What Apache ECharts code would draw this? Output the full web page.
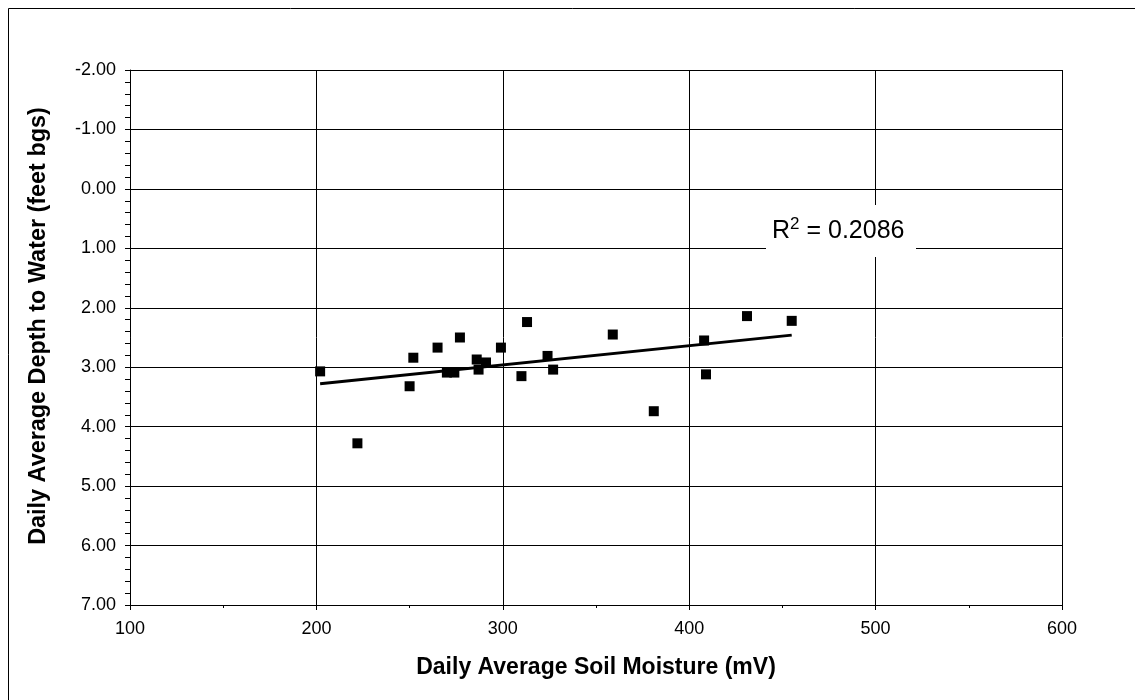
<!DOCTYPE html>
<html>
<head>
<meta charset="utf-8">
<script src="https://cdn.jsdelivr.net/npm/echarts@6/dist/echarts.min.js"></script>
<style>
html,body{margin:0;padding:0;background:#fff;}
#chart{width:1135px;height:700px;}
</style>
</head>
<body>
<div id="chart"></div>
<script>
// Data
const soilMoisture = [202, 222, 250, 252, 265, 270, 274, 277, 286, 287, 291, 299, 310, 313, 324, 327, 359, 381, 408, 409, 431, 455];
const depthToWater = [3.07, 4.28, 3.32, 2.84, 2.67, 3.09, 3.09, 2.50, 2.87, 3.04, 2.92, 2.67, 3.15, 2.24, 2.81, 3.04, 2.45, 3.74, 2.55, 3.12, 2.14, 2.22];
const trendX = [202, 455];
const trendY = [3.28, 2.46];
const r2Text = '0.2086';
const xTitle = 'Daily Average Soil Moisture (mV)';
const yTitle = 'Daily Average Depth to Water (feet bgs)';

const FONT = '"Liberation Sans", Arial, sans-serif';
const chart = echarts.init(document.getElementById('chart'), null, {renderer: 'canvas'});

const points = soilMoisture.map((x, i) => [x, depthToWater[i]]);
const trend = trendX.map((x, i) => [x, trendY[i]]);

chart.setOption({
  backgroundColor: '#fff',
  animation: false,
  grid: {left: 130, right: 73, top: 70, bottom: 95, containLabel: false},
  xAxis: {
    type: 'value', min: 100, max: 600, interval: 100,
    name: xTitle, nameLocation: 'middle', nameGap: 51,
    nameTextStyle: {fontFamily: FONT, fontSize: 23, fontWeight: 'bold', color: '#000'},
    axisLine: {show: true, onZero: false, lineStyle: {color: '#000', width: 1}},
    axisTick: {show: true, length: 5, lineStyle: {color: '#000'}},
    minorTick: {show: true, splitNumber: 2, length: 3, lineStyle: {color: '#000'}},
    axisLabel: {fontFamily: FONT, fontSize: 18, color: '#000', margin: 15},
    splitLine: {show: true, lineStyle: {color: '#000', width: 1}}
  },
  yAxis: {
    type: 'value', min: -2, max: 7, interval: 1, inverse: true,
    axisLine: {show: true, onZero: false, lineStyle: {color: '#000', width: 1}},
    axisTick: {show: true, length: 5, lineStyle: {color: '#000'}},
    minorTick: {show: true, splitNumber: 5, length: 5, lineStyle: {color: '#000'}},
    axisLabel: {fontFamily: FONT, fontSize: 18, color: '#000', margin: 14,
      formatter: v => v.toFixed(2)},
    splitLine: {show: true, lineStyle: {color: '#000', width: 1}}
  },
  graphic: [
    {type: 'rect', x: 0, y: 0, shape: {x: 8.5, y: 8.5, width: 1200, height: 800},
     style: {fill: 'none', stroke: '#000', lineWidth: 1}, silent: true, z: 100},
    {type: 'text', x: 38.5, y: 326, rotation: Math.PI / 2, z: 60,
     style: {text: yTitle, fontFamily: FONT, fontSize: 23.4, fontWeight: 'bold', fill: '#000',
       align: 'center', verticalAlign: 'middle'}},
    {type: 'rect', x: 0, y: 0, shape: {x: 766, y: 205, width: 150, height: 52},
     style: {fill: '#fff'}, z: 50},
    {type: 'text', x: 772, y: 212, z: 51,
     style: {
       text: '{r|R}{s|2}{r| = ' + r2Text + '}',
       rich: {
         r: {fontFamily: FONT, fontSize: 25, fill: '#000', verticalAlign: 'bottom', lineHeight: 32},
         s: {fontFamily: FONT, fontSize: 17, fill: '#000', verticalAlign: 'bottom', lineHeight: 32, padding: [0, 0, 11, 0]}
       }
     }}
  ],
  series: [
    {type: 'scatter', data: points, symbol: 'rect', symbolSize: 10,
     itemStyle: {color: '#000', opacity: 1}, z: 5},
    {type: 'line', data: trend, symbol: 'none', lineStyle: {color: '#000', width: 3}, z: 4}
  ]
});
</script>
</body>
</html>
